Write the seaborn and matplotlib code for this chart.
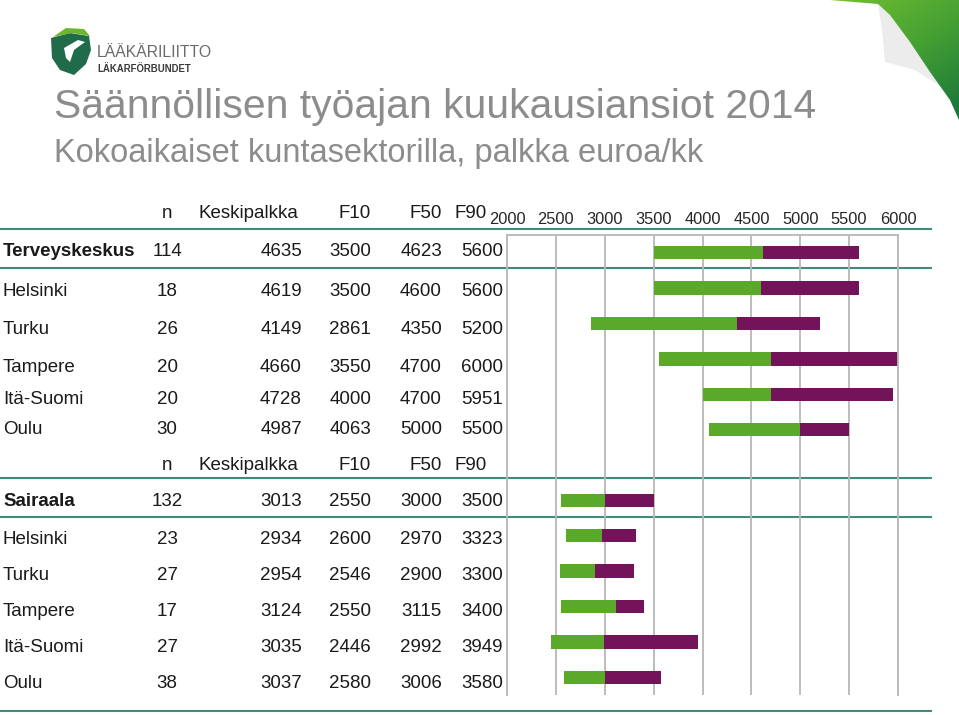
"""Säännöllisen työajan kuukausiansiot 2014 - kuntasektorin lääkärit.

Taulukko vasemmalla, F10-F50-F90 janat oikealla.
"""

import numpy as np
import pandas as pd
import matplotlib
matplotlib.use("Agg")
import matplotlib.pyplot as plt
from matplotlib.colors import LinearSegmentedColormap
from matplotlib.patches import Polygon
import seaborn as sns

sns.set_theme(style="white")
plt.rcParams['font.family'] = ['Liberation Sans', 'DejaVu Sans']

# --- data -------------------------------------------------------------
header = ["n", "Keskipalkka", "F10", "F50", "F90"]

tk_names = ["Terveyskeskus", "Helsinki", "Turku", "Tampere", "Itä-Suomi", "Oulu"]
tk_n = [114, 18, 26, 20, 20, 30]
tk_mean = [4635, 4619, 4149, 4660, 4728, 4987]
tk_f10 = [3500, 3500, 2861, 3550, 4000, 4063]
tk_f50 = [4623, 4600, 4350, 4700, 4700, 5000]
tk_f90 = [5600, 5600, 5200, 6000, 5951, 5500]

sa_names = ["Sairaala", "Helsinki", "Turku", "Tampere", "Itä-Suomi", "Oulu"]
sa_n = [132, 23, 27, 17, 27, 38]
sa_mean = [3013, 2934, 2954, 3124, 3035, 3037]
sa_f10 = [2550, 2600, 2546, 2550, 2446, 2580]
sa_f50 = [3000, 2970, 2900, 3115, 2992, 3006]
sa_f90 = [3500, 3323, 3300, 3400, 3949, 3580]

x_ticks = [2000, 2500, 3000, 3500, 4000, 4500, 5000, 5500, 6000]

GREEN = "#5aa92b"
PURPLE = "#73145a"
TEAL = "#3f8c7a"
GRID = "#b8b8b8"
TITLE_GRAY = "#8c8c8c"
TEXT = "#1a1a1a"

# one row per bar, unique keys because city names repeat
df = pd.DataFrame({
    "group": ["tk"] * 6 + ["sa"] * 6,
    "name": tk_names + sa_names,
    "n": tk_n + sa_n,
    "mean": tk_mean + sa_mean,
    "f10": tk_f10 + sa_f10,
    "f50": tk_f50 + sa_f50,
    "f90": tk_f90 + sa_f90,
})
df["key"] = df["group"] + "|" + df["name"]
df["low"] = df["f50"] - df["f10"]
df["high"] = df["f90"] - df["f50"]
# empty slot between the two blocks holds the second header row
order = list(df["key"][:6]) + ["header"] + list(df["key"][6:])

# pixel rows of the table text (the slide spaces them a little unevenly)
text_rows_tk = [252, 291, 329, 368, 399, 430]
text_rows_sa = [502, 539, 575, 612, 648, 683]
header_rows = [214, 465]

# --- figure -------------------------------------------------------------
W, H = 959, 715
fig = plt.figure(figsize=(W / 100, H / 100), dpi=100)

bg = fig.add_axes([0, 0, 1, 1])
bg.set_xlim(0, W)
bg.set_ylim(H, 0)
bg.axis("off")

ax = fig.add_axes([507 / W, (H - 695) / H, 391 / W, 460 / H])
ax.patch.set_alpha(0)

sns.barplot(data=df, x="low", y="key", order=order, orient="y",
            left=df["f10"].values, color=GREEN, saturation=1, width=0.38,
            errorbar=None, linewidth=0, ax=ax)
sns.barplot(data=df, x="high", y="key", order=order, orient="y",
            left=df["f50"].values, color=PURPLE, saturation=1, width=0.38,
            errorbar=None, linewidth=0, ax=ax)

ax.set_xlim(x_ticks[0], x_ticks[-1])
ax.set_ylim(len(order) - 0.5, -0.5)
ax.set_xticks(x_ticks)
ax.xaxis.tick_top()
ax.tick_params(axis="x", length=0, pad=6, labelsize=11.8, labelcolor="#262626")
ax.set_yticks([])
ax.set_xlabel("")
ax.set_ylabel("")
ax.xaxis.grid(True, color=GRID, lw=1.3)
ax.set_axisbelow(True)
for side in ["top", "left", "right"]:
    ax.spines[side].set_color(GRID)
    ax.spines[side].set_linewidth(1.3)
ax.spines["bottom"].set_visible(False)

# --- table text -------------------------------------------------------
fs = 13.5


def table_row(y, name, n, mean, f10, f50, f90, bold=False):
    bg.text(3, y, name, fontsize=fs, color=TEXT, va="center",
            fontweight="bold" if bold else "normal")
    bg.text(167, y, str(n), fontsize=fs, color=TEXT, va="center", ha="center")
    bg.text(302, y, str(mean), fontsize=fs, color=TEXT, va="center", ha="right")
    bg.text(371, y, str(f10), fontsize=fs, color=TEXT, va="center", ha="right")
    bg.text(442, y, str(f50), fontsize=fs, color=TEXT, va="center", ha="right")
    bg.text(503, y, str(f90), fontsize=fs, color=TEXT, va="center", ha="right")


def header_row(y):
    bg.text(167, y, header[0], fontsize=fs, color=TEXT, va="center", ha="center")
    bg.text(298, y, header[1], fontsize=fs, color=TEXT, va="center", ha="right")
    bg.text(371, y, header[2], fontsize=fs, color=TEXT, va="center", ha="right")
    bg.text(442, y, header[3], fontsize=fs, color=TEXT, va="center", ha="right")
    bg.text(455, y, header[4], fontsize=fs, color=TEXT, va="center", ha="left")


for y in header_rows:
    header_row(y)
for y, (_, r) in zip(text_rows_tk + text_rows_sa, df.iterrows()):
    table_row(y, r["name"], r["n"], r["mean"], r["f10"], r["f50"], r["f90"],
              bold=r["name"] in ("Terveyskeskus", "Sairaala"))

bg.hlines([229, 268, 478, 517, 711], 0, 932, color=TEAL, lw=1.5)

# --- titles -------------------------------------------------------------
bg.text(54, 118, "Säännöllisen työajan kuukausiansiot 2014", fontsize=29.4,
        color=TITLE_GRAY, va="baseline")
bg.text(54, 162, "Kokoaikaiset kuntasektorilla, palkka euroa/kk", fontsize=23.5,
        color=TITLE_GRAY, va="baseline")

# --- logo ---------------------------------------------------------------
bg.add_patch(Polygon([(51, 38), (70, 33), (89, 36), (91, 50), (86, 64), (74, 75),
                      (60, 70), (52, 58)], closed=True, color="#1f6b4a", lw=0))
bg.add_patch(Polygon([(53, 37), (66, 28), (84, 29), (90, 36), (72, 33)],
                     closed=True, color="#6cb52e", lw=0))
bg.add_patch(Polygon([(64, 48), (78, 40), (85, 42), (74, 50), (70, 62), (66, 58)],
                     closed=True, color="white", lw=0))
bg.text(97, 57, "LÄÄKÄRILIITTO", fontsize=11.3, color="#6b6b6b", va="baseline")
bg.text(97, 72, "LÄKARFÖRBUNDET", fontsize=6.9, color="#3a3a3a",
        fontweight="bold", va="baseline")

# --- page curl, top right -------------------------------------------------
fold = [(959, 120), (950, 100), (930, 72), (910, 42), (890, 15), (878, 4)]
curl = Polygon([(830, 0), (959, 0)] + fold, closed=True,
               facecolor="none", edgecolor="none")
bg.add_patch(curl)
gx, gy = np.meshgrid(np.linspace(0, 1, 60), np.linspace(0, 1, 60))
cmap = LinearSegmentedColormap.from_list("curl", ["#72c030", "#45a033", "#17733b"])
img = bg.imshow(gx * 0.5 + gy * 0.7, cmap=cmap, extent=(830, 959, 122, 0),
                aspect="auto", zorder=1)
img.set_clip_path(curl)
bg.add_patch(Polygon(fold[::-1][:5] + [(940, 86), (915, 70), (885, 62), (882, 30)],
                     closed=True, color="#ececec", lw=0, zorder=0.5))
bg.set_xlim(0, W)
bg.set_ylim(H, 0)

fig.savefig("out.png", dpi=100)
